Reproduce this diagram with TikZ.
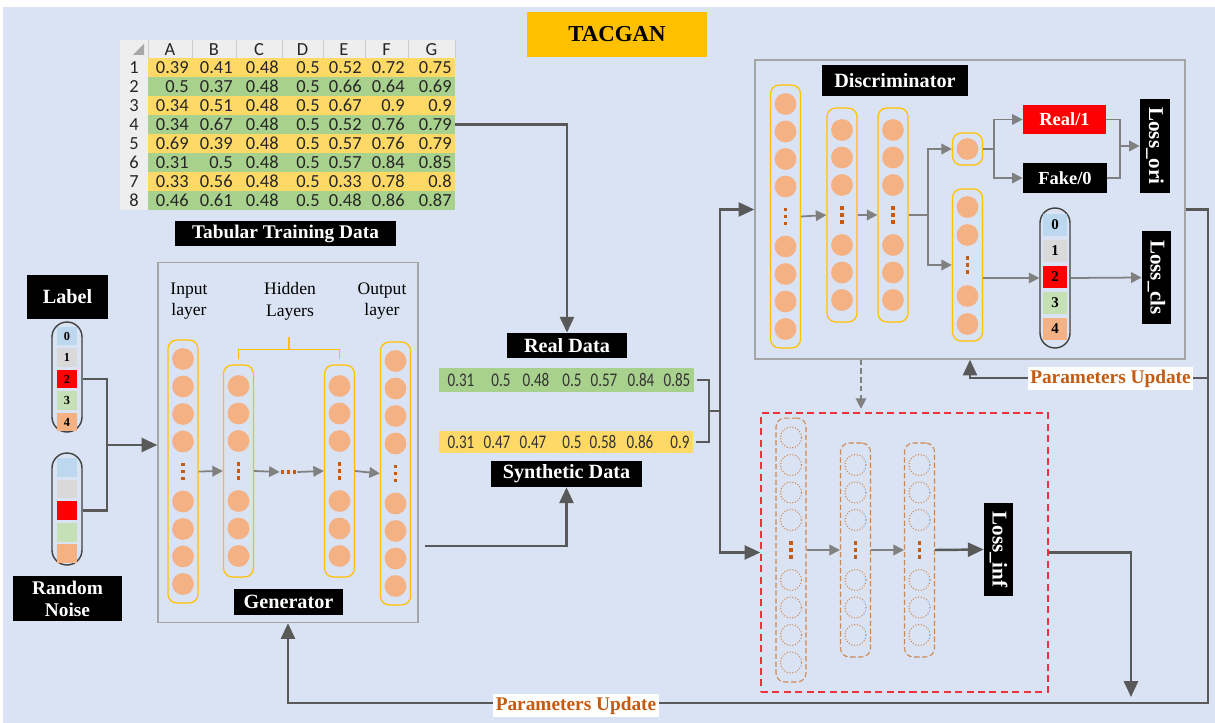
\documentclass[tikz,border=0pt]{standalone}
\usepackage{fontspec}
\setmainfont{Liberation Serif}
\newfontfamily\xlfont{Carlito}
\newfontfamily\narrowfont[FakeStretch=0.78]{Carlito}
\usetikzlibrary{arrows.meta,calc,positioning}

\definecolor{bgblue}{HTML}{DAE3F3}
\definecolor{lineg}{HTML}{595959}
\definecolor{arrg}{HTML}{808080}
\definecolor{boxgray}{HTML}{A5A5A5}
\definecolor{neuron}{HTML}{F4B183}
\definecolor{layergold}{HTML}{FFC000}
\definecolor{titlegold}{HTML}{FFC000}
\definecolor{rowyel}{HTML}{FFD966}
\definecolor{rowgrn}{HTML}{A9D18E}
\definecolor{dotbrown}{HTML}{C55A11}
\definecolor{ghostc}{HTML}{D0864F}
\definecolor{infred}{HTML}{F0303A}
\definecolor{cellblue}{HTML}{BDD7EE}
\definecolor{cellgray}{HTML}{D9D9D9}
\definecolor{cellgrn}{HTML}{C5E0B4}
\definecolor{hdrgray}{HTML}{EEEEEE}
\definecolor{vecline}{HTML}{404040}
\definecolor{updorange}{HTML}{C55A11}

\tikzset{
  blk/.style={fill=black, text=white, inner sep=0pt, font=\bfseries\fontsize{11.5}{13}\selectfont},
  lossbox/.style={blk, rotate=-90, minimum width=1.86cm, minimum height=0.58cm, font=\bfseries\fontsize{12}{14}\selectfont},
  netbox/.style={draw=boxgray, line width=0.8pt, inner sep=0pt},
  layer/.style={draw=layergold, rounded corners=5pt, line width=0.7pt, inner sep=0pt, minimum width=0.6cm},
  ghost/.style={draw=ghostc, dash pattern=on 3pt off 1.5pt, rounded corners=5pt, line width=0.6pt, inner sep=0pt, minimum width=0.6cm},
  dline/.style={draw=lineg, line width=1.4pt},
  darrow/.style={dline, -{Triangle[length=9pt,width=8pt]}},
  gline/.style={draw=arrg, line width=1pt},
  garrow/.style={gline, -{Triangle[length=6pt,width=6pt]}},
  vec/.style={draw=vecline, line width=0.8pt, rounded corners=8.5pt, minimum width=0.6cm, inner sep=0pt},
  vcell/.style={minimum width=0.4cm, minimum height=0.38cm, inner sep=0pt, font=\bfseries\fontsize{7}{8}\selectfont},
  xlnum/.style={font=\xlfont\fontsize{10.5}{11}\selectfont, inner sep=0pt, text=black!85},
  rownum/.style={font=\narrowfont\fontsize{11}{12}\selectfont, inner sep=0pt, text=black!80},
  datarow/.style={inner sep=0pt, minimum width=5.1cm, minimum height=0.46cm},
  upd/.style={fill=white, text=updorange, inner sep=1.5pt, font=\bfseries\fontsize{11}{13}\selectfont},
  layertxt/.style={align=center, font=\fontsize{10}{12.3}\selectfont, inner sep=0pt},
}

\begin{document}
\begin{tikzpicture}[x=0.02cm,y=-0.02cm]
  \useasboundingbox (0,0) rectangle (1215,723);
  \fill[white] (0,0) rectangle (1215,723);
  \fill[bgblue] (3,7) rectangle (1215,723);

  % title
  \node[fill=titlegold, minimum width=3.6cm, minimum height=0.9cm, inner sep=0pt,
        font=\bfseries\fontsize{13}{15}\selectfont] (title) at (617,34.5) {TACGAN};

  % spreadsheet with the training rows
  \fill[hdrgray] (120,40) rectangle (455,58);
  \fill[hdrgray] (120,58) rectangle (148,210);
  \fill[black!35] (144,44) -- (144,55) -- (133,55) -- cycle;
  \foreach \x in {148,192,236,282,323,365,408,455}
    \draw[black!20, line width=0.4pt] (\x,40) -- (\x,58);
  \foreach \l/\x in {A/170,B/214,C/259,D/302.5,E/344,F/386.5,G/431.5}
    \node[xlnum] (h\l) at (\x,49.5) {\l};
  \foreach \r/\rc/\vals in {1/rowyel/{0.39,0.41,0.48,0.5,0.52,0.72,0.75},
                            2/rowgrn/{0.5,0.37,0.48,0.5,0.66,0.64,0.69},
                            3/rowyel/{0.34,0.51,0.48,0.5,0.67,0.9,0.9},
                            4/rowgrn/{0.34,0.67,0.48,0.5,0.52,0.76,0.79},
                            5/rowyel/{0.69,0.39,0.48,0.5,0.57,0.76,0.79},
                            6/rowgrn/{0.31,0.5,0.48,0.5,0.57,0.84,0.85},
                            7/rowyel/{0.33,0.56,0.48,0.5,0.33,0.78,0.8},
                            8/rowgrn/{0.46,0.61,0.48,0.5,0.48,0.86,0.87}}{
    \node[inner sep=0pt, fill=\rc, minimum width=6.14cm, minimum height=0.38cm] (row\r) at (301.5,{48.5+19*\r}) {};
    \node[xlnum] (n\r) at (134,{48.5+19*\r}) {\r};
    \foreach \v [count=\c] in \vals{
      \pgfmathsetmacro\xr{{192,236,282,323,365,408,455}[\c-1]}
      \node[xlnum, anchor=east] (t\r-\c) at (\xr-3,{48.5+19*\r}) {\v};
    }
  }
  \node[blk, minimum width=4.42cm, minimum height=0.5cm, font=\bfseries\fontsize{11}{13}\selectfont] (tablbl) at (285.5,233.5) {Tabular Training Data};

  % label and noise vectors
  \node[blk, minimum width=1.62cm, minimum height=0.88cm] (label) at (67.5,297) {Label};
  \node[vec, minimum height=2.2cm] (labvec) at (67,377) {};
  \foreach \i/\cc in {0/cellblue,1/cellgray,2/red,3/cellgrn,4/neuron}
    \node[vcell, fill=\cc] (lab\i) at (67,{336+21.5*\i}) {\i};
  \node[vec, minimum height=2.24cm] (noivec) at (67,509) {};
  \foreach \i/\cc in {0/cellblue,1/cellgray,2/red,3/cellgrn,4/neuron}
    \node[vcell, fill=\cc] (noi\i) at (67,{467.5+21.5*\i}) {};
  \node[blk, minimum width=2.18cm, minimum height=0.9cm, align=center,
        font=\bfseries\fontsize{11}{12.5}\selectfont] (noise) at (67.5,598.5) {Random\\Noise};

  % generator
  \node[netbox, minimum width=5.2cm, minimum height=7.2cm] (gen) at (288,442.5) {};
  \node[layertxt] (tin) at (189,301) {Input\\layer};
  \node[layertxt] (thid) at (290,301) {Hidden\\Layers};
  \node[layertxt] (tout) at (382,301) {Output\\layer};
  \node[layer, minimum height=5.26cm] (gin) at (183,471.5) {};
  \node[layer, minimum height=4.24cm] (gh1) at (238.5,471) {};
  \node[layer, minimum height=4.24cm] (gh2) at (339.5,471) {};
  \node[layer, minimum height=5.26cm] (gout) at (395.5,473.5) {};
  \node[blk, minimum width=2.18cm, minimum height=0.52cm] (genlbl) at (288.5,602) {Generator};
  \draw[layergold, line width=0.7pt] ([yshift=3pt]gh1.north) -- ([yshift=8.5pt]gh1.north)
        -- ([yshift=8.5pt]gh2.north) -- ([yshift=3pt]gh2.north);
  \coordinate (hb) at ($([yshift=8.5pt]gh1.north)!0.5!([yshift=8.5pt]gh2.north)$);
  \draw[layergold, line width=0.7pt] (hb) -- ++(0,-12);
  \node[minimum width=0.34cm, inner sep=0pt] (hdots) at (288.5,472) {};
  \foreach \k in {-6,0,6}
    \fill[dotbrown] ($(hdots)+(\k-1.6,-1.6)$) rectangle ++(3.2,3.2);
  \draw[garrow] (gin.east) -- (gh1.west);
  \draw[garrow] (gh1.east) -- (hdots.west);
  \draw[garrow] (hdots.east) -- (gh2.west);
  \draw[garrow] (gh2.east) -- (gout.west);

  % real and synthetic rows
  \node[blk, minimum width=2.4cm, minimum height=0.5cm] (real) at (567,345.5) {Real Data};
  \node[datarow, fill=rowgrn, minimum height=0.48cm] (realrow) at (566.5,380) {};
  \foreach \v/\x [count=\i] in {0.31/461,0.5/501,0.48/536,0.5/572,0.57/604,0.84/641,0.85/677}
    \node[rownum] (rv\i) at (\x,380) {\v};
  \node[datarow, fill=rowyel, minimum height=0.44cm] (synrow) at (566,442) {};
  \foreach \v/\x [count=\i] in {0.31/461,0.47/497,0.47/533,0.5/572,0.58/603,0.86/640,0.9/680}
    \node[rownum] (sv\i) at (\x,442) {\v};
  \node[blk, minimum width=3.02cm, minimum height=0.52cm] (syn) at (566.5,474) {Synthetic Data};

  % discriminator
  \node[netbox, minimum width=8.6cm, minimum height=5.98cm] (disc) at (970,209.5) {};
  \node[blk, minimum width=2.92cm, minimum height=0.62cm] (disclbl) at (895,80.5) {Discriminator};
  \node[layer, minimum height=5.26cm] (dc1) at (785.5,216.5) {};
  \node[layer, minimum height=4.28cm] (dc2) at (842,215) {};
  \node[layer, minimum height=4.28cm] (dc3) at (893,215) {};
  \node[layer, minimum height=0.64cm] (dcs) at (967.5,149) {};
  \node[layer, minimum height=3.04cm] (dc4) at (967.5,265) {};
  \node[blk, fill=red, minimum width=1.66cm, minimum height=0.58cm, font=\bfseries\fontsize{10.5}{12}\selectfont] (real1) at (1064.5,119.5) {Real/1};
  \node[blk, minimum width=1.68cm, minimum height=0.6cm, font=\bfseries\fontsize{10.5}{12}\selectfont] (fake0) at (1065,178) {Fake/0};
  \node[lossbox, minimum width=1.88cm, minimum height=0.6cm] (lossori) at (1155,146) {Loss\_ori};
  \node[vec, minimum height=2.8cm] (clsvec) at (1055,278) {};
  \foreach \i/\cc in {0/cellblue,1/cellgray,2/red,3/cellgrn,4/neuron}
    \node[vcell, fill=\cc, minimum width=0.48cm, minimum height=0.46cm,
          font=\bfseries\fontsize{8.5}{9}\selectfont] (cls\i) at (1055,{225+26*\i}) {\i};
  \node[lossbox] (losscls) at (1156.5,277.5) {Loss\_cls};
  \draw[garrow] (dc1.east) -- (dc2.west);
  \draw[garrow] (dc2.east) -- (dc3.west);
  \coordinate (fork1) at (928,215);
  \draw[gline] (dc3.east) -- (fork1);
  \draw[garrow] (fork1) |- (dcs.west);
  \draw[garrow] (fork1) |- (dc4.west);
  \coordinate (fork2) at (994,149);
  \draw[gline] (dcs.east) -- (fork2);
  \draw[garrow] (fork2) |- (real1.west);
  \draw[garrow] (fork2) |- (fake0.west);
  \coordinate (ojoin) at (1120,146);
  \draw[gline] (real1.east) -| (ojoin) |- (fake0.east);
  \draw[garrow] (ojoin) -- (lossori.south);
  \draw[garrow] (dc4.east |- clsvec.west) -- (clsvec.west);
  \draw[garrow] (clsvec.east) -- (losscls.south);

  % information branch
  \node[draw=infred, dash pattern=on 4pt off 2.5pt, line width=0.8pt, inner sep=0pt,
        minimum width=5.74cm, minimum height=5.58cm] (inf) at (904.5,552.5) {};
  \node[ghost, minimum height=5.28cm] (ic1) at (791,550) {};
  \node[ghost, minimum height=4.28cm] (ic2) at (855.5,550) {};
  \node[ghost, minimum height=4.28cm] (ic3) at (919.5,550) {};
  \node[lossbox] (lossinf) at (998.5,549.5) {Loss\_inf};
  \draw[garrow] (ic1.east) -- (ic2.west);
  \draw[garrow] (ic2.east) -- (ic3.west);
  \draw[darrow] (ic3.east) -- (lossinf.south);

  % neurons
  \foreach \c in {gin,gout,dc1}
    \foreach \d in {-112.5,-85,-57.5,-30,30,57.5,85,112.5}
      \fill[neuron] ($(\c)+(0,\d)$) circle (6.2pt);
  \foreach \c in {gh1,gh2,dc2,dc3}
    \foreach \d in {-85,-57.5,-30,30,57.5,85}
      \fill[neuron] ($(\c)+(0,\d)$) circle (6.2pt);
  \foreach \d in {-58,-30,31,59}
    \fill[neuron] ($(dc4)+(0,\d)$) circle (6.2pt);
  \fill[neuron] (dcs) circle (6.2pt);
  \foreach \d in {-112.5,-85,-57.5,-30,30,57.5,85,112.5}
    \draw[ghostc, densely dotted, line width=0.6pt] ($(ic1)+(0,\d)$) circle (6pt);
  \foreach \c in {ic2,ic3}
    \foreach \d in {-85,-57.5,-30,30,57.5,85}
      \draw[ghostc, densely dotted, line width=0.6pt] ($(\c)+(0,\d)$) circle (6pt);
  \foreach \c in {gin,gh1,gh2,gout,dc1,dc2,dc3,dc4,ic1,ic2,ic3}
    \foreach \k in {-7,0,7}
      \fill[dotbrown] ($(\c)+(-1.6,\k-1.6)$) rectangle ++(3.2,3.2);

  % data flow
  \coordinate (lnj) at (107,445);
  \draw[dline] (labvec.east |- lab2) -| (lnj) |- (noivec.east |- noi2);
  \draw[darrow] (lnj) -- (lnj -| gen.west);
  \draw[darrow] (row4.east) -| (real.north);
  \coordinate (genout) at (425,546);
  \draw[darrow] (genout) -| (syn.south);
  \coordinate (brk) at (709,411);
  \coordinate (split) at (720,411);
  \draw[dline] ([xshift=1.5pt]realrow.east) -| (brk) |- ([xshift=1.5pt]synrow.east);
  \draw[dline] (brk) -- (split);
  \draw[darrow] (split) |- (disc.west);
  \draw[darrow] (split) |- (inf.west);
  \coordinate (dd) at (861,0);
  \draw[garrow, dash pattern=on 3pt off 2pt, shorten >=2pt] (disc.south -| dd) -- (inf.north -| dd);

  % feedback
  \coordinate (rloop) at (1208,703);
  \draw[darrow] (disc.east) -| (rloop) -| (gen.south);
  \coordinate (rmid) at (1208,378);
  \draw[darrow] (rmid) -| (disc.south);
  \coordinate (infdn) at (1131,697);
  \draw[darrow] (inf.east) -| (infdn);
  \node[upd] (pu1) at (1110.5,378.5) {Parameters Update};
  \node[upd] (pu2) at (576,705.5) {Parameters Update};
\end{tikzpicture}
\end{document}
